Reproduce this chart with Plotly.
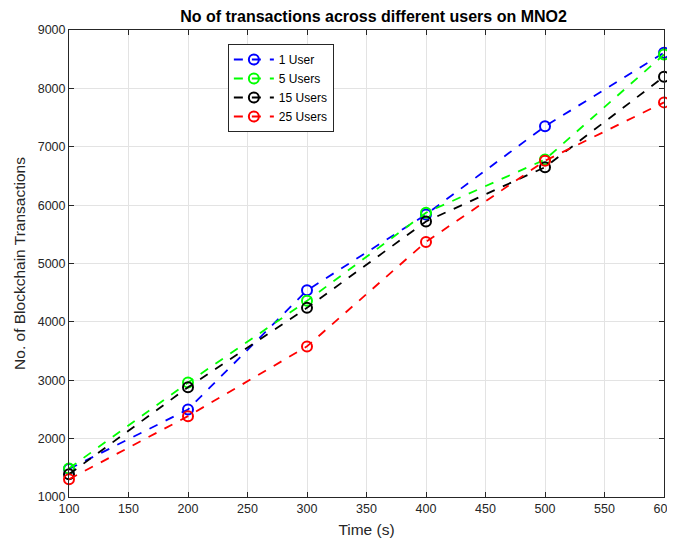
import plotly.graph_objects as go

time_s = [100, 200, 300, 400, 500, 600]
users_1 = [1480, 2500, 4540, 5840, 7350, 8610]
users_5 = [1490, 2960, 4360, 5870, 6780, 8580]
users_15 = [1390, 2880, 4240, 5720, 6650, 8200]
users_25 = [1305, 2385, 3580, 5370, 6760, 7760]

series = [
    ("1 User", users_1, "#0000ff"),
    ("5 Users", users_5, "#00ff00"),
    ("15 Users", users_15, "#000000"),
    ("25 Users", users_25, "#ff0000"),
]

fig = go.Figure()
for name, vals, col in series:
    fig.add_trace(go.Scatter(
        x=time_s, y=vals, name=name, mode="lines+markers",
        line=dict(color=col, width=1.8, dash="dash"),
        marker=dict(symbol="circle-open", size=10, color=col, line=dict(width=2, color=col)),
        cliponaxis=False,
    ))

font = "Liberation Sans, Arial, sans-serif"
axis_common = dict(
    showline=True, linecolor="#262626", linewidth=1, mirror="ticks",
    ticks="inside", ticklen=5, tickcolor="#262626",
    showgrid=True, gridcolor="#e3e3e3", gridwidth=1, zeroline=False,
    automargin=False, ticklabeloverflow="allow",
    tickfont=dict(family=font, size=12.5, color="#262626"),
)
fig.update_xaxes(range=[100, 600], dtick=50, title=dict(text="Time (s)", font=dict(family=font, size=15.5, color="#262626"), standoff=9), **axis_common)
fig.update_yaxes(range=[1000, 9000], dtick=1000, title=dict(text="No. of Blockchain Transactions", font=dict(family=font, size=15.5, color="#262626"), standoff=8), **axis_common)

# page body has an 8px margin; the figure is offset by it and made wide enough that the last tick label is not clipped
fig.update_layout(
    width=675, height=533,
    margin=dict(l=61, r=19, t=22, b=44),
    paper_bgcolor="white", plot_bgcolor="white",
    title=dict(text="<b>No of transactions across different users on MNO2</b>", x=0.5415, xanchor="center",
               yref="container", y=0.984, yanchor="middle",
               font=dict(family=font, size=16, color="black"), automargin=False),
    legend=dict(x=0.267, y=0.97, xanchor="left", yanchor="top", bgcolor="white",
                bordercolor="#262626", borderwidth=1, font=dict(family=font, size=12, color="black"),
                tracegroupgap=0, itemwidth=40),
    showlegend=True,
)

fig.write_html("out.html")
